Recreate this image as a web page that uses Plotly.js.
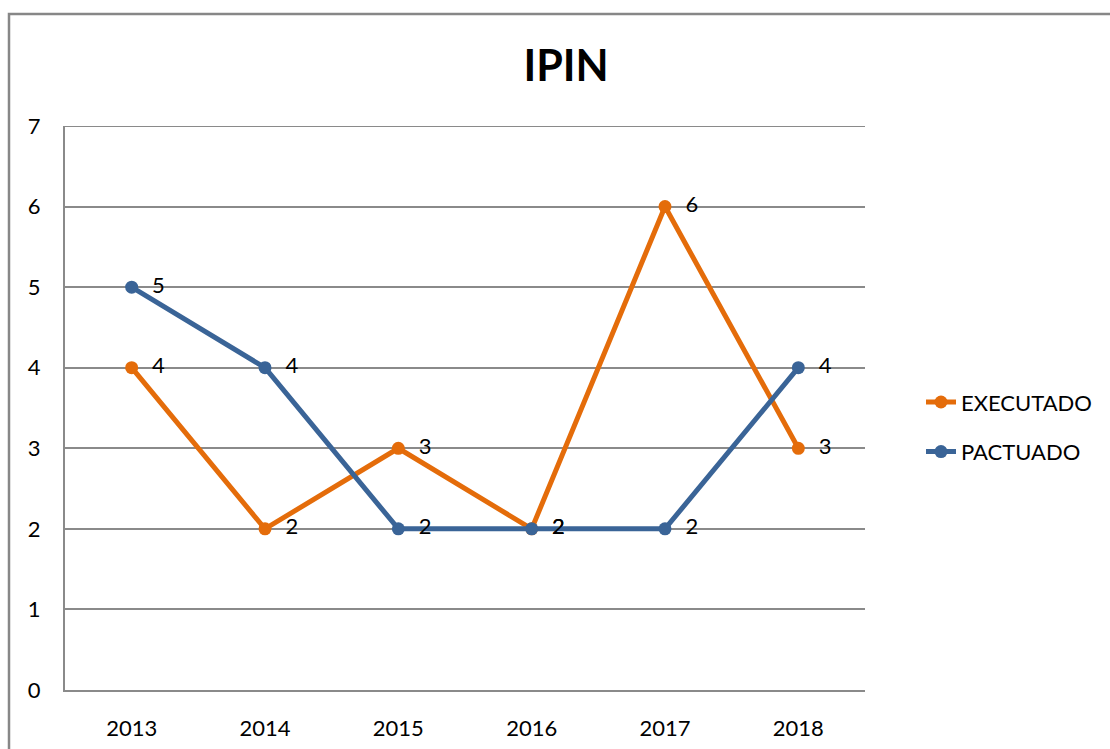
<!DOCTYPE html>
<html>
<head>
<meta charset="utf-8">
<script src="https://cdn.plot.ly/plotly-3.0.1.min.js"></script>
<style>html,body{margin:0;padding:0;background:#fff;}#chart{width:1110px;height:749px;}</style>
</head>
<body>
<div id="chart"></div>
<script>
var years = ['2013', '2014', '2015', '2016', '2017', '2018'];
var executado = [4, 2, 3, 2, 6, 3];
var pactuado = [5, 4, 2, 2, 2, 4];
var seriesNames = ['EXECUTADO', 'PACTUADO'];
var yTicks = [0, 1, 2, 3, 4, 5, 6, 7];

var FONT = 'Lato, "Open Sans", sans-serif';
var FS = 22;
var yMax = yTicks[yTicks.length - 1];
var traces = [
  {
    x: years, y: executado, name: seriesNames[0], legendgroup: 'a',
    type: 'scatter', mode: 'lines+markers+text',
    line: {color: '#E46C0A', width: 5},
    marker: {color: '#E46C0A', size: 13},
    texttemplate: '  %{y}', textposition: 'middle right',
    textfont: {family: FONT, size: FS, color: '#000'},
    cliponaxis: false
  },
  {
    x: years, y: pactuado, name: seriesNames[1], legendgroup: 'b',
    type: 'scatter', mode: 'lines+markers+text',
    line: {color: '#3A6497', width: 5},
    marker: {color: '#3A6497', size: 13},
    texttemplate: '  %{y}', textposition: 'middle right',
    textfont: {family: FONT, size: FS, color: '#000'},
    cliponaxis: false
  }
];

var layout = {
  width: 1110, height: 749,
  margin: {l: 65, r: 245, t: 126, b: 59},
  paper_bgcolor: '#fff', plot_bgcolor: '#fff',
  font: {family: FONT, size: FS, color: '#000'},
  title: {
    text: '<b>IPIN</b>', font: {family: FONT, size: 43, color: '#000'},
    xref: 'container', x: 0.51, xanchor: 'center',
    yref: 'container', y: 1 - 66 / 749, yanchor: 'middle'
  },
  showlegend: true,
  legend: {
    x: 1.07, xanchor: 'left', y: 0.466, yanchor: 'middle',
    traceorder: 'grouped', tracegroupgap: 18,
    font: {family: FONT, size: FS, color: '#000'},
    bgcolor: 'rgba(0,0,0,0)'
  },
  xaxis: {
    type: 'category', range: [-0.5, 5.5],
    showline: true, linecolor: '#8a8a8a', linewidth: 2,
    showgrid: false, zeroline: false, ticks: '',
    ticklabelstandoff: 18,
    tickfont: {family: FONT, size: FS, color: '#000'}
  },
  yaxis: {
    range: [0, yMax], tickvals: yTicks,
    showline: true, linecolor: '#8a8a8a', linewidth: 2,
    showgrid: true, gridcolor: '#8a8a8a', gridwidth: 2,
    zeroline: false, ticks: '',
    ticklabelstandoff: 18,
    tickfont: {family: FONT, size: FS, color: '#000'}
  },
  shapes: [
    {
      type: 'line', xref: 'paper', yref: 'y',
      x0: 0, x1: 1, y0: yMax, y1: yMax,
      line: {color: '#8a8a8a', width: 2}, layer: 'below'
    },
    {
      type: 'rect', xref: 'paper', yref: 'paper',
      x0: (9 - 65) / 800, x1: (1120 - 65) / 800,
      y0: (690 - 770) / 564, y1: (690 - 14) / 564,
      line: {color: '#878787', width: 2.5}, fillcolor: 'rgba(0,0,0,0)', layer: 'below'
    }
  ]
};

Plotly.newPlot('chart', traces, layout, {displayModeBar: false, staticPlot: true});
</script>
</body>
</html>
